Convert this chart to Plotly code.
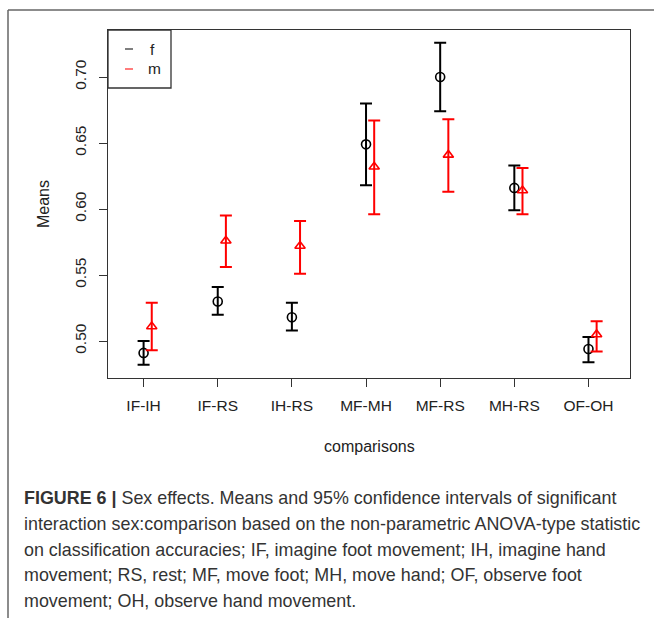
import plotly.graph_objects as go

# Comparison categories and per-sex means with 95% confidence limits
categories = ["IF-IH", "IF-RS", "IH-RS", "MF-MH", "MF-RS", "MH-RS", "OF-OH"]
series_names = ["f", "m"]
f_mean = [0.491, 0.530, 0.518, 0.649, 0.700, 0.616, 0.494]
f_lower = [0.482, 0.520, 0.508, 0.618, 0.674, 0.599, 0.484]
f_upper = [0.500, 0.541, 0.529, 0.680, 0.726, 0.633, 0.503]
m_mean = [0.511, 0.576, 0.572, 0.632, 0.641, 0.614, 0.505]
m_lower = [0.493, 0.556, 0.551, 0.596, 0.613, 0.596, 0.492]
m_upper = [0.529, 0.595, 0.591, 0.667, 0.668, 0.631, 0.515]
y_ticks = [0.50, 0.55, 0.60, 0.65, 0.70]

W, H = 654, 618
L, R, T, B = 108, 24, 30, 240
PW, PH = W - L - R, H - T - B


def px(x):
    return (x - L) / PW


def py(y):
    return (H - B - y) / PH


FONT = "Liberation Sans, Arial, sans-serif"
pos = list(range(1, len(categories) + 1))
offset = 0.11

fig = go.Figure()


def add_series(xs, mean, lo, hi, color, symbol, name):
    fig.add_trace(go.Scatter(
        x=xs, y=mean, mode="markers", name=name, showlegend=False,
        marker=dict(symbol=symbol, size=9, color=color,
                    line=dict(color=color, width=1.6)),
        error_y=dict(type="data", symmetric=False,
                     array=[h - m for h, m in zip(hi, mean)],
                     arrayminus=[m - l for m, l in zip(mean, lo)],
                     color=color, thickness=2, width=6),
    ))


add_series(pos, f_mean, f_lower, f_upper, "black", "circle-open", series_names[0])
add_series([p + offset for p in pos], m_mean, m_lower, m_upper, "#ff0000",
           "triangle-up-open", series_names[1])

axis_common = dict(showgrid=False, zeroline=False, showline=True, mirror=True,
                   linecolor="#333", linewidth=1.3, ticks="outside", ticklen=8,
                   tickcolor="#333", tickwidth=1.3,
                   tickfont=dict(family=FONT, size=15.5, color="#222"))

fig.update_xaxes(range=[0.52, 7.56], tickvals=pos, ticktext=categories,
                 ticklabelstandoff=5, **axis_common)
fig.update_yaxes(range=[0.472, 0.7356], tickvals=y_ticks,
                 ticktext=[f"{v:.2f}" for v in y_ticks], tickangle=-90,
                 ticklabelstandoff=7, **axis_common)

shapes = [
    # outer frame (top and left rules)
    dict(type="line", xref="paper", yref="paper", x0=px(8), x1=px(W + 5),
         y0=py(10), y1=py(10), line=dict(color="#666", width=1.5)),
    dict(type="line", xref="paper", yref="paper", x0=px(8), x1=px(8),
         y0=py(10), y1=py(H + 5), line=dict(color="#666", width=1.5)),
    # legend box
    dict(type="rect", xref="paper", yref="paper", x0=px(108), x1=px(171),
         y0=py(30), y1=py(88), line=dict(color="#333", width=1.3), fillcolor="white"),
    dict(type="line", xref="paper", yref="paper", x0=px(125), x1=px(133),
         y0=py(49), y1=py(49), line=dict(color="#555", width=1.5)),
    dict(type="line", xref="paper", yref="paper", x0=px(125), x1=px(133),
         y0=py(69), y1=py(69), line=dict(color="#ff5050", width=1.5)),
]

annotations = [
    dict(text=series_names[0], x=px(148), y=py(49)),
    dict(text=series_names[1], x=px(146), y=py(69)),
]
annotations = [dict(a, xref="paper", yref="paper", xanchor="left", yanchor="middle",
                    showarrow=False, font=dict(family=FONT, size=15.5, color="#222"))
               for a in annotations]

annotations.append(dict(text="Means", x=px(43), y=py(204), xref="paper", yref="paper",
                        xanchor="center", yanchor="middle", textangle=-90,
                        showarrow=False, font=dict(family=FONT, size=16, color="#222")))
annotations.append(dict(text="comparisons", x=px(369), y=py(446), xref="paper",
                        yref="paper", xanchor="center", yanchor="middle",
                        showarrow=False, font=dict(family=FONT, size=16, color="#222")))

caption_lines = [
    "<b>FIGURE 6 |</b> Sex effects. Means and 95% confidence intervals of significant",
    "interaction sex:comparison based on the non-parametric ANOVA-type statistic",
    "on classification accuracies; IF, imagine foot movement; IH, imagine hand",
    "movement; RS, rest; MF, move foot; MH, move hand; OF, observe foot",
    "movement; OH, observe hand movement.",
]
for i, line in enumerate(caption_lines):
    annotations.append(dict(text=line, x=px(22), y=py(498 + 25.75 * i), xref="paper",
                            yref="paper", xanchor="left", yanchor="middle",
                            showarrow=False, align="left",
                            font=dict(family=FONT, size=17.9, color="#333")))

fig.update_layout(width=W, height=H, margin=dict(l=L, r=R, t=T, b=B),
                  paper_bgcolor="white", plot_bgcolor="white",
                  shapes=shapes, annotations=annotations, showlegend=False)

fig.write_html("out.html")
